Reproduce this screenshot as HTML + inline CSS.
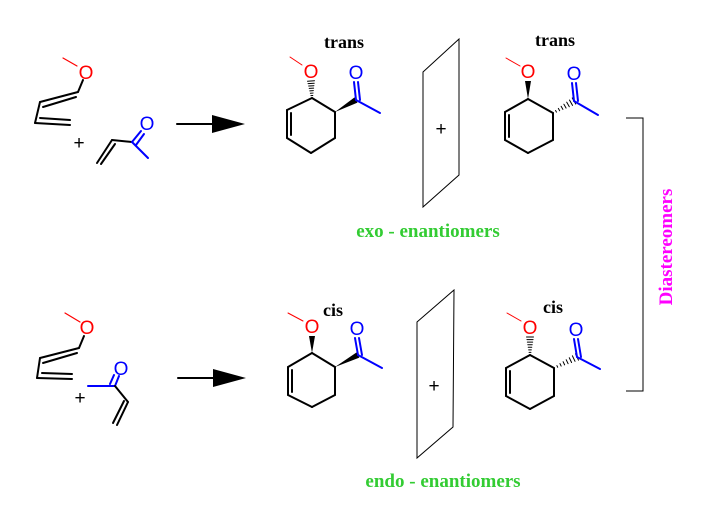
<!DOCTYPE html>
<html><head><meta charset="utf-8"><style>
html,body{margin:0;padding:0;background:#fff;}
svg{display:block;}
text{font-family:"Liberation Serif",serif;font-weight:bold;}
.o{font-family:"Liberation Sans",sans-serif;font-weight:normal;font-size:19px;}
</style></head><body>
<svg id="s" width="704" height="515" viewBox="0 0 704 515" xmlns="http://www.w3.org/2000/svg">
<g stroke-linecap="round" fill="none" stroke-width="2">
<line x1="63" y1="58" x2="77" y2="66" stroke="#f00" stroke-width="1.2"/>
<line x1="83" y1="80" x2="78" y2="92" stroke="#000"/>
<line x1="78" y1="92" x2="40" y2="102" stroke="#000"/>
<line x1="76" y1="97" x2="43" y2="107" stroke="#000"/>
<line x1="40" y1="102" x2="35" y2="123" stroke="#000"/>
<line x1="35" y1="123" x2="70" y2="125" stroke="#000"/>
<line x1="40" y1="118" x2="70" y2="120" stroke="#000"/>
<line x1="97" y1="163" x2="112" y2="140" stroke="#000"/>
<line x1="101" y1="164" x2="115" y2="144" stroke="#000"/>
<line x1="112" y1="140" x2="132" y2="142" stroke="#000"/>
<line x1="132" y1="142" x2="141" y2="131" stroke="#00f"/>
<line x1="136" y1="145" x2="144" y2="134" stroke="#00f"/>
<line x1="132" y1="142" x2="148" y2="158" stroke="#00f"/>
<line x1="65" y1="313" x2="80" y2="322" stroke="#f00" stroke-width="1.2"/>
<line x1="84" y1="336" x2="79" y2="348" stroke="#000"/>
<line x1="79" y1="348" x2="40" y2="358" stroke="#000"/>
<line x1="77" y1="353" x2="43" y2="363" stroke="#000"/>
<line x1="40" y1="358" x2="37" y2="378" stroke="#000"/>
<line x1="37" y1="378" x2="72" y2="379" stroke="#000"/>
<line x1="42" y1="373" x2="72" y2="374" stroke="#000"/>
<line x1="88" y1="386" x2="115" y2="386" stroke="#00f"/>
<line x1="115" y1="386" x2="119" y2="376" stroke="#00f"/>
<line x1="110" y1="384" x2="114" y2="375" stroke="#00f"/>
<line x1="115" y1="386" x2="128" y2="402" stroke="#000"/>
<line x1="128" y1="402" x2="117" y2="425" stroke="#000"/>
<line x1="124" y1="401" x2="113" y2="423" stroke="#000"/>
<line x1="177" y1="124" x2="215" y2="124" stroke="#000"/>
<line x1="178" y1="378" x2="217" y2="378" stroke="#000"/>
<polygon points="423,72 459,39 459,175 423,207" stroke="#000" stroke-width="1"/>
<polygon points="417,322 454,290 453,427 417,458" stroke="#000" stroke-width="1"/>
<polyline points="626,118 643,118 643,391 626,391" stroke="#000" stroke-width="1" stroke-linecap="butt"/>
</g>
<polygon points="212,115 245,124 212,133" fill="#000"/>
<polygon points="213,369 246,378 213,387" fill="#000"/>
<text x="79" y="149" class="o" text-anchor="middle" font-size="17">+</text>
<text x="80" y="404" class="o" text-anchor="middle" font-size="17">+</text>
<text x="441" y="135" class="o" text-anchor="middle" font-size="17">+</text>
<text x="434" y="392" class="o" text-anchor="middle" font-size="17">+</text>
<text x="86" y="79" class="o" fill="#f00" text-anchor="middle">O</text>
<text x="87" y="334" class="o" fill="#f00" text-anchor="middle">O</text>
<text x="147" y="130" class="o" fill="#00f" text-anchor="middle">O</text>
<text x="121" y="375" class="o" fill="#00f" text-anchor="middle">O</text>
<text x="344" y="48" font-size="18" text-anchor="middle">trans</text>
<text x="555" y="46" font-size="18" text-anchor="middle">trans</text>
<text x="333" y="316" font-size="18" text-anchor="middle">cis</text>
<text x="553" y="313" font-size="18" text-anchor="middle">cis</text>
<text x="428" y="237" font-size="19" fill="#33cc33" text-anchor="middle">exo - enantiomers</text>
<text x="443" y="487" font-size="19" fill="#33cc33" text-anchor="middle">endo - enantiomers</text>
<text transform="translate(672,247) rotate(-90)" font-size="19" fill="#ff00ff" text-anchor="middle">Diastereomers</text>
<g id="mols"></g>
</svg>
<script>
var g=document.getElementById('mols'),NS='http://www.w3.org/2000/svg';
function el(n,a){var e=document.createElementNS(NS,n);for(var k in a)e.setAttribute(k,a[k]);g.appendChild(e);return e;}
function ln(a,b,c,w){el('line',{x1:a[0],y1:a[1],x2:b[0],y2:b[1],stroke:c||'#000','stroke-width':w||2,'stroke-linecap':'round'});}
function wedge(a,b){var dx=b[0]-a[0],dy=b[1]-a[1],L=Math.hypot(dx,dy),nx=-dy/L*3,ny=dx/L*3;
el('polygon',{points:a[0]+','+a[1]+' '+(b[0]+nx)+','+(b[1]+ny)+' '+(b[0]-nx)+','+(b[1]-ny),fill:'#000'});}
function hash(a,b){var dx=b[0]-a[0],dy=b[1]-a[1],L=Math.hypot(dx,dy),n=7;for(var i=0;i<=n;i++){var t=i/n,w=0.5+3*t,x=a[0]+dx*t,y=a[1]+dy*t;ln([x-dy/L*w,y+dx/L*w],[x+dy/L*w,y-dx/L*w],'#000',1);}}
function mol(p,ow,cw){
 var C=p.C;for(var i=0;i<6;i++)ln(C[i],C[(i+1)%6]);
 ln([C[4][0]+4,C[4][1]-3],[C[5][0]+4,C[5][1]+3]);
 ln(p.m1,p.m2,'#f00',1);
 el('text',{x:p.O[0],y:p.O[1]+7,'class':'o',fill:'#f00','text-anchor':'middle'}).textContent='O';
 var ob=[p.O[0],p.O[1]+10];
 if(ow)wedge(C[0],ob);else hash(C[0],ob);
 if(cw)wedge(C[1],p.K);else hash(C[1],p.K);
 ln(p.K,[p.Ok[0],p.Ok[1]+10],'#00f');ln([p.K[0]+4,p.K[1]],[p.Ok[0]+4,p.Ok[1]+10],'#00f');
 el('text',{x:p.Ok[0]+2,y:p.Ok[1]+7,'class':'o',fill:'#00f','text-anchor':'middle'}).textContent='O';
 ln(p.K,p.Me,'#00f');
}
mol({C:[[312,98],[335,112],[335,138],[311,153],[287,138],[287,110]],m1:[290,57],m2:[302,65],O:[311,71],K:[356,100],Ok:[354,72],Me:[380,113]},false,true);
mol({C:[[528,99],[553,113],[553,140],[528,153],[505,140],[505,112]],m1:[506,58],m2:[520,66],O:[528,71],K:[574,101],Ok:[572,73],Me:[598,115]},true,false);
mol({C:[[312,353],[335,367],[335,395],[312,407],[288,395],[288,367]],m1:[288,313],m2:[303,321],O:[312,326],K:[358,355],Ok:[355,328],Me:[382,368]},true,true);
mol({C:[[530,355],[554,368],[554,396],[530,409],[506,396],[506,368]],m1:[507,313],m2:[521,321],O:[530,327],K:[577,357],Ok:[574,329],Me:[600,369]},false,false);
</script>
</body></html>
